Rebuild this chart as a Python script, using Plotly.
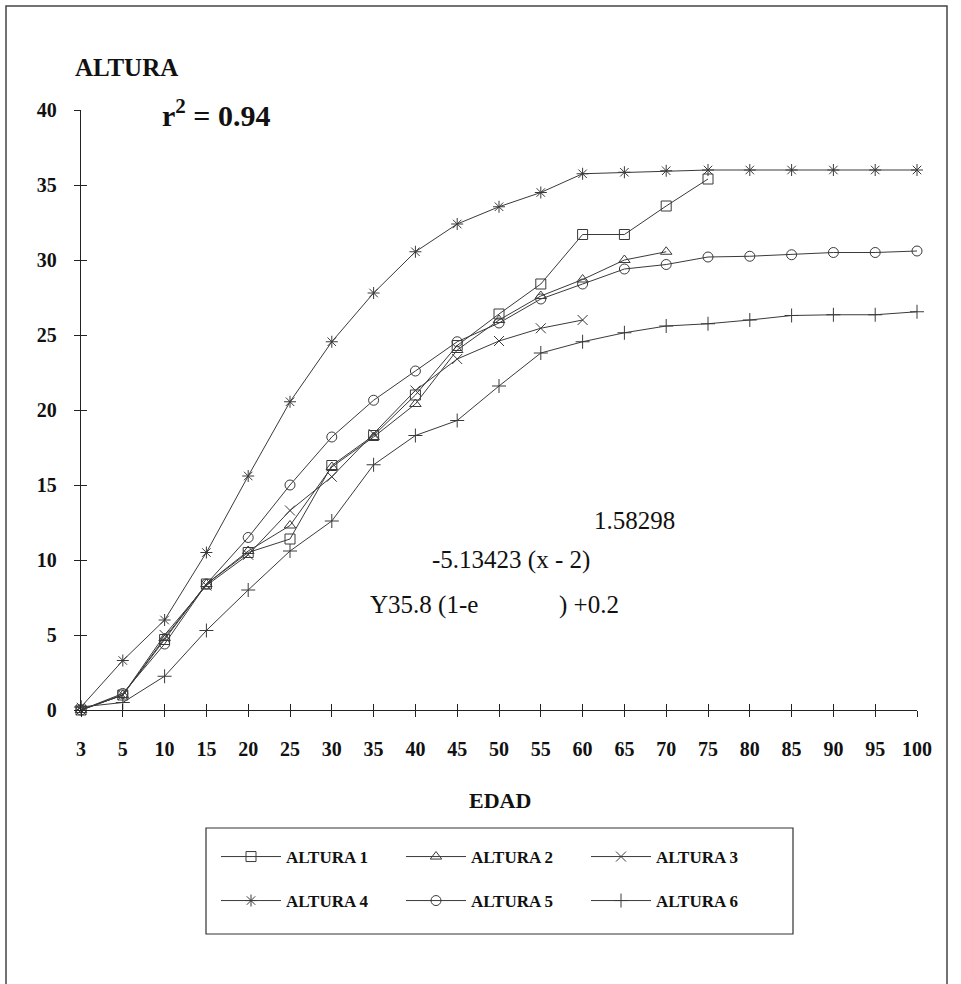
import plotly.graph_objects as go

EDAD = ["3", "5", "10", "15", "20", "25", "30", "35", "40", "45", "50",
        "55", "60", "65", "70", "75", "80", "85", "90", "95", "100"]
Y_TICKS = [0, 5, 10, 15, 20, 25, 30, 35, 40]

ALTURA_1 = [0.0, 1.0, 4.7, 8.4, 10.5, 11.4, 16.3, 18.3, 21.0, 24.3, 26.4,
            28.4, 31.7, 31.7, 33.6, 35.4]
ALTURA_2 = [0.0, 1.0, 4.8, 8.4, 10.6, 12.3, 16.2, 18.2, 20.4, 24.0, 26.0,
            27.6, 28.7, 30.0, 30.55]
ALTURA_3 = [0.0, 1.0, 5.0, 8.3, 10.35, 13.3, 15.55, 18.4, 21.3, 23.4, 24.6,
            25.45, 26.0]
ALTURA_4 = [0.2, 3.3, 6.0, 10.5, 15.6, 20.55, 24.55, 27.8, 30.55, 32.4, 33.55,
            34.5, 35.75, 35.85, 35.95, 36.0, 36.0, 36.0, 36.0, 36.0, 36.0]
ALTURA_5 = [0.0, 1.1, 4.4, 8.4, 11.5, 15.0, 18.2, 20.65, 22.6, 24.55, 25.8,
            27.4, 28.4, 29.4, 29.7, 30.2, 30.25, 30.35, 30.5, 30.5, 30.6]
ALTURA_6 = [0.2, 0.5, 2.25, 5.3, 8.0, 10.6, 12.6, 16.35, 18.3, 19.3, 21.6,
            23.8, 24.55, 25.15, 25.6, 25.75, 26.0, 26.3, 26.35, 26.35, 26.55]

NAMES = ["ALTURA 1", "ALTURA 2", "ALTURA 3", "ALTURA 4", "ALTURA 5", "ALTURA 6"]
SERIES = [ALTURA_1, ALTURA_2, ALTURA_3, ALTURA_4, ALTURA_5, ALTURA_6]
SYMBOLS = ["square-open", "triangle-up-open", "x-thin-open",
           "asterisk-open", "circle-open", "cross-thin-open"]
LEGENDS = ["legend", "legend", "legend", "legend2", "legend2", "legend2"]

W, H = 961, 984
L, R, T, B = 81, 44, 110, 274
PW, PH = W - L - R, H - T - B
FONT = "Liberation Serif"
INK = "#3a3a3a"


def px(x):
    return (x - L) / PW


def py(y):
    return (H - B - y) / PH


fig = go.Figure()
for name, vals, sym, lg in zip(NAMES, SERIES, SYMBOLS, LEGENDS):
    fig.add_trace(go.Scatter(
        x=EDAD[:len(vals)], y=vals, name=name, mode="lines+markers",
        line=dict(color=INK, width=1),
        marker=dict(symbol=sym, size=10, color=INK, line=dict(width=1, color=INK)),
        cliponaxis=False, legend=lg,
    ))

# dummy trace for overlay axes (inside half of crossing ticks)
fig.add_trace(go.Scatter(x=[], y=[], xaxis="x2", yaxis="y2", showlegend=False))

tickfont = dict(family=FONT, size=20, color="#111", weight="bold")
legfont = dict(family=FONT, size=17, color="#111", weight="bold")

fig.update_layout(
    width=W, height=H,
    margin=dict(l=L, r=R, t=T, b=B),
    paper_bgcolor="white", plot_bgcolor="white",
    font=dict(family=FONT, color="#111"),
    xaxis=dict(type="category", categoryorder="array", categoryarray=EDAD,
               range=[0, len(EDAD) - 1], showgrid=False, zeroline=False,
               showline=True, linecolor="#222", linewidth=1.3,
               ticks="outside", ticklen=6, tickcolor="#222", tickwidth=1.2,
               tickfont=tickfont, ticklabelstandoff=15),
    yaxis=dict(range=[0, 40], tickvals=Y_TICKS, showgrid=False, zeroline=False,
               showline=True, linecolor="#222", linewidth=1.3,
               ticks="outside", ticklen=6, tickcolor="#222", tickwidth=1.2,
               tickfont=tickfont, ticklabelstandoff=13),
    xaxis2=dict(overlaying="x", anchor="y2", range=[0, len(EDAD) - 1],
                tickvals=list(range(len(EDAD))), ticks="inside", ticklen=6,
                tickcolor="#222", tickwidth=1.2, showticklabels=False,
                showgrid=False, zeroline=False, showline=False),
    yaxis2=dict(overlaying="y", anchor="x2", range=[0, 40], tickvals=Y_TICKS,
                ticks="inside", ticklen=6, tickcolor="#222", tickwidth=1.2,
                showticklabels=False, showgrid=False, zeroline=False, showline=False),
    legend=dict(orientation="h", xref="container", yref="container",
                x=216 / W, xanchor="left", y=1 - 857 / H, yanchor="middle",
                font=legfont, bgcolor="rgba(0,0,0,0)", itemwidth=60,
                entrywidth=110, traceorder="normal"),
    legend2=dict(orientation="h", xref="container", yref="container",
                 x=216 / W, xanchor="left", y=1 - 901 / H, yanchor="middle",
                 font=legfont, bgcolor="rgba(0,0,0,0)", itemwidth=60,
                 entrywidth=110, traceorder="normal"),
    showlegend=True,
)

shapes = [
    dict(type="rect", xref="paper", yref="paper", x0=px(6), x1=px(947),
         y0=py(6), y1=py(995), line=dict(color="#444", width=1.5)),
    dict(type="rect", xref="paper", yref="paper", x0=px(206), x1=px(793),
         y0=py(828), y1=py(934), line=dict(color="#333", width=1.2)),
]
fig.update_layout(shapes=shapes)

ann = [
    ("<b>ALTURA</b>", 73, 68, 25),
    ("<b>r<sup>2</sup> = 0.94</b>", 160, 113, 30),
    ("<b>EDAD</b>", 467, 800, 22),
    ("1.58298", 592, 520, 25),
    ("-5.13423 (x - 2)", 430, 560, 25),
    ("Y35.8 (1-e", 368, 605, 25),
    (") +0.2", 557, 605, 25),
]
for text, x, y, s in ann:
    fig.add_annotation(text=text, xref="paper", yref="paper", x=px(x), y=py(y),
                       xanchor="left", yanchor="middle", showarrow=False,
                       font=dict(family=FONT, size=s, color="#111"))

fig.write_html("out.html", config={"displayModeBar": False},
               post_script="document.body.style.margin='0';")
